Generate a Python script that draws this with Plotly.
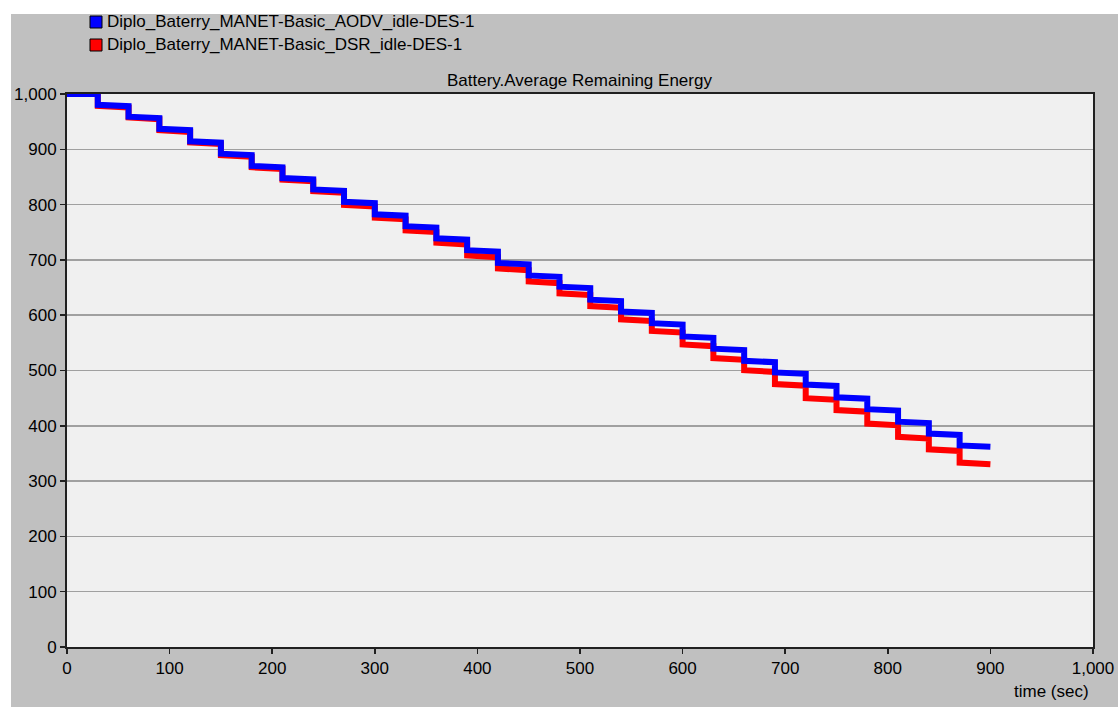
import plotly.graph_objects as go

# ---- data ----
step_start_times = list(range(0, 900, 30))
step_len = 30

aodv_name = "Diplo_Baterry_MANET-Basic_AODV_idle-DES-1"
dsr_name = "Diplo_Baterry_MANET-Basic_DSR_idle-DES-1"

aodv_start = [1000, 980.5, 959, 937, 914.5, 892, 870, 848, 827.5, 805,
              782.5, 761, 739, 717.5, 694.5, 672, 651.5, 628, 606.5, 585.5,
              561.5, 539.5, 517.5, 496.5, 474.5, 451.5, 430, 407.5, 386, 364.5]
aodv_end = [1000, 978, 956.5, 934.5, 912, 889.5, 867.5, 845.5, 825, 802.5,
            780, 758.5, 736.5, 715, 692, 669.5, 649, 625.5, 604, 583,
            559, 537, 515, 494, 472, 449, 427.5, 405, 383.5, 362]

dsr_start = [1000, 978.5, 957.5, 934.5, 912.5, 889.5, 867.5, 845, 824.5, 799.5,
             776.5, 753.5, 731, 708, 684.5, 661, 639.5, 616.5, 592.5, 571.5,
             547, 522.5, 500.5, 475.5, 450, 428.5, 404, 380, 357.5, 333.5]
dsr_end = [1000, 975.5, 954.5, 931.5, 909.5, 886.5, 864.5, 842, 821.5, 796.5,
           773.5, 750.5, 728, 705, 681.5, 658, 636.5, 613.5, 589.5, 568.5,
           544, 519.5, 497.5, 472.5, 447, 425.5, 401, 377, 354.5, 330.5]

tick_vals = list(range(0, 1001, 100))
title_text = "Battery.Average Remaining Energy"
x_title = "time (sec)"


def step_series(starts, ends):
    xs, ys = [], []
    for t0, a, b in zip(step_start_times, starts, ends):
        xs += [t0, t0 + step_len]
        ys += [a, b]
    return xs, ys


BLUE = "#0000ff"
RED = "#ff0000"
FONT = "Liberation Sans"
FS = 17

L, R, T, B = 67, 25, 94, 60
W, H = 1118, 707
pw, ph = W - L - R, H - T - B


def px_x(px):
    return (px - L) / pw


def px_y(py):
    return (H - B - py) / ph


fig = go.Figure()
xd, yd = step_series(dsr_start, dsr_end)
xa, ya = step_series(aodv_start, aodv_end)
fig.add_trace(go.Scatter(x=xd, y=yd, mode="lines", name=dsr_name,
                         line=dict(color=RED, width=6), showlegend=False, hoverinfo="skip"))
fig.add_trace(go.Scatter(x=xa, y=ya, mode="lines", name=aodv_name,
                         line=dict(color=BLUE, width=6), showlegend=False, hoverinfo="skip"))

axis_common = dict(range=[0, 1000], tickvals=tick_vals, tickformat=",",
                   showline=True, linecolor="#202020", linewidth=2, mirror=True,
                   ticks="outside", ticklen=5, tickwidth=1.5, tickcolor="#202020",
                   tickfont=dict(family=FONT, size=FS, color="#000000"),
                   zeroline=False, fixedrange=True)

fig.update_xaxes(**axis_common, showgrid=False)
fig.update_yaxes(**axis_common, showgrid=True, gridcolor="#a0a0a0", gridwidth=1.5)

# manual legend (square swatches + names)
legend_items = [(aodv_name, BLUE, 22), (dsr_name, RED, 45)]
shapes = [
    dict(type="rect", xref="paper", yref="paper", x0=px_x(-5), x1=px_x(11),
         y0=px_y(H + 5), y1=px_y(-5), fillcolor="#ffffff", line=dict(width=0), layer="below"),
    dict(type="rect", xref="paper", yref="paper", x0=px_x(-5), x1=px_x(W + 5),
         y0=px_y(14), y1=px_y(-5), fillcolor="#ffffff", line=dict(width=0), layer="below"),
]
annotations = [
    dict(text=title_text, xref="paper", yref="paper", x=px_x(579), y=px_y(80),
         xanchor="center", yanchor="middle", showarrow=False,
         font=dict(family=FONT, size=FS, color="#000000")),
    dict(text=x_title, xref="paper", yref="paper", x=px_x(1091), y=px_y(691),
         xanchor="right", yanchor="middle", showarrow=False,
         font=dict(family=FONT, size=FS, color="#000000")),
]
for name, col, cy in legend_items:
    shapes.append(dict(type="rect", xref="paper", yref="paper",
                       x0=px_x(90), x1=px_x(102), y0=px_y(cy + 6), y1=px_y(cy - 6),
                       fillcolor=col, line=dict(color="#000000", width=1)))
    annotations.append(dict(text=name, xref="paper", yref="paper", x=px_x(105), y=px_y(cy),
                            xanchor="left", yanchor="middle", showarrow=False,
                            font=dict(family=FONT, size=FS, color="#000000")))

fig.update_layout(
    width=W, height=H,
    margin=dict(l=L, r=R, t=T, b=B, autoexpand=False),
    paper_bgcolor="#c0c0c0",
    plot_bgcolor="#f0f0f0",
    font=dict(family=FONT, size=FS, color="#000000"),
    showlegend=False,
    shapes=shapes,
    annotations=annotations,
)

fig.write_html("out.html", config={"displayModeBar": False, "staticPlot": True},
               post_script="document.body.style.margin='0';document.body.style.overflow='hidden';")
